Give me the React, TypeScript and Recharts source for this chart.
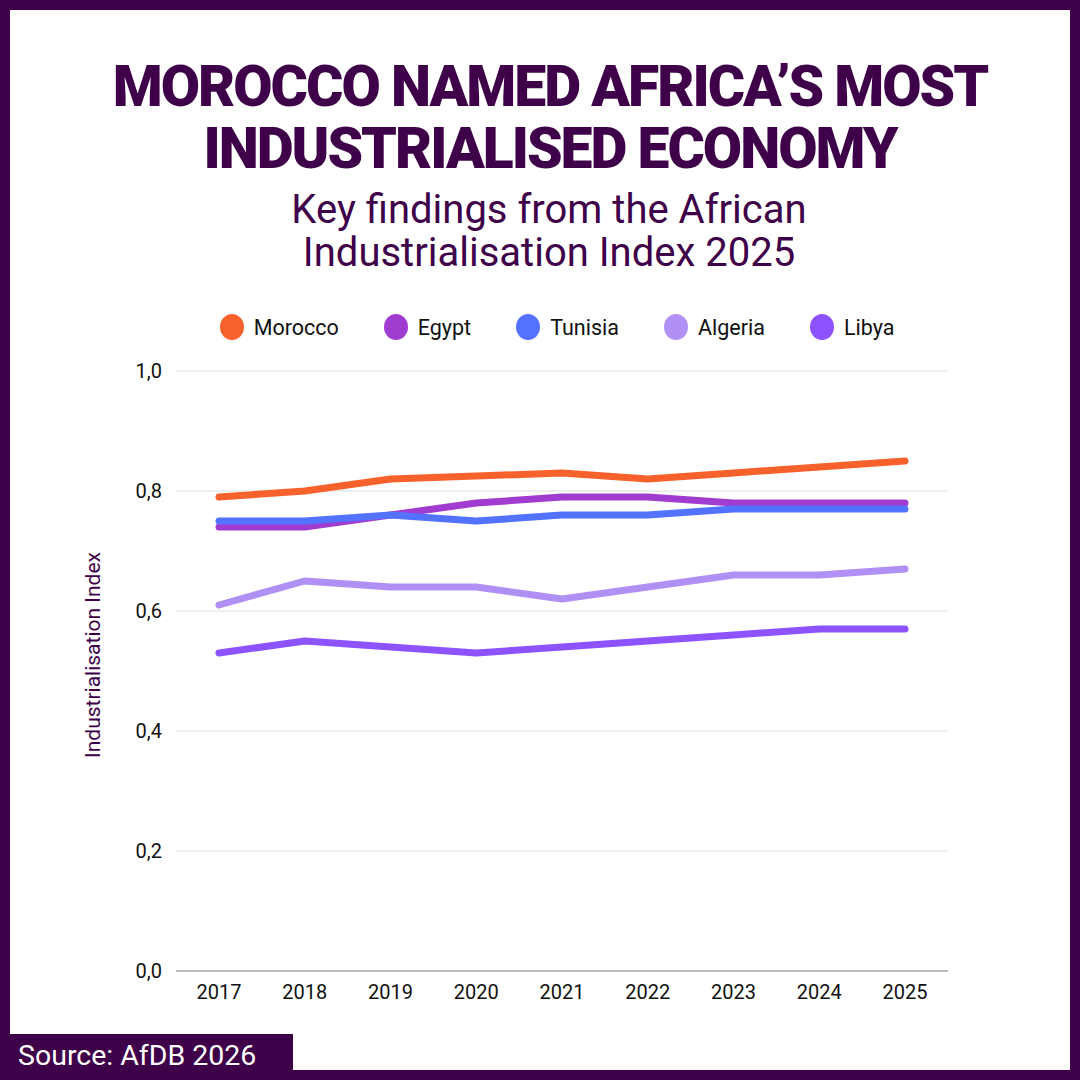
import React from "react";
import { LineChart, Line, XAxis, YAxis, CartesianGrid } from "recharts";

const years = ["2017", "2018", "2019", "2020", "2021", "2022", "2023", "2024", "2025"];
const morocco = [0.79, 0.8, 0.82, 0.825, 0.83, 0.82, 0.83, 0.84, 0.85];
const egypt = [0.74, 0.74, 0.76, 0.78, 0.79, 0.79, 0.78, 0.78, 0.78];
const tunisia = [0.75, 0.75, 0.76, 0.75, 0.76, 0.76, 0.77, 0.77, 0.77];
const algeria = [0.61, 0.65, 0.64, 0.64, 0.62, 0.64, 0.66, 0.66, 0.67];
const libya = [0.53, 0.55, 0.54, 0.53, 0.54, 0.55, 0.56, 0.57, 0.57];
const yTicks = [0, 0.2, 0.4, 0.6, 0.8, 1.0];

const series = [
  { key: "Morocco", values: morocco, color: "#F7612B" },
  { key: "Egypt", values: egypt, color: "#A13CD1" },
  { key: "Tunisia", values: tunisia, color: "#5272FF" },
  { key: "Algeria", values: algeria, color: "#B190F5" },
  { key: "Libya", values: libya, color: "#8D53FF" },
];

const data = years.map((year, i) => {
  const row: Record<string, string | number> = { year };
  series.forEach((s) => {
    row[s.key] = s.values[i];
  });
  return row;
});

const purple = "#3F004A";
const font = "Roboto, 'Noto Sans', sans-serif";

// rotated axis title, sits a bit above the plot's middle like the original
const AxisTitle = ({ viewBox }: any) => {
  const x = viewBox.x - 23;
  const y = viewBox.y + viewBox.height / 2 - 16;
  return (
    <text x={x} y={y} transform={`rotate(-90, ${x}, ${y})`} textAnchor="middle" dominantBaseline="central" fill={purple} fontSize={21} fontFamily={font}>
      Industrialisation Index
    </text>
  );
};

export default function App() {
  return (
    <div style={{ position: "absolute", left: 0, top: 0, width: 1080, height: 1080, background: "#fff", fontFamily: font, overflow: "hidden" }}>
      <style>{`body{margin:0}`}</style>
      {/* frame */}
      <div style={{ position: "absolute", inset: 0, border: `10px solid ${purple}`, boxSizing: "border-box" }} />

      <div style={{ position: "absolute", top: 56, left: 10, width: 1080, textAlign: "center", color: purple, fontWeight: 900, fontSize: 57, lineHeight: "62px", letterSpacing: -2 }}>
        MOROCCO NAMED AFRICA’S MOST
        <br />
        INDUSTRIALISED ECONOMY
      </div>
      <div style={{ position: "absolute", top: 188, left: 9, width: 1080, textAlign: "center", color: purple, fontSize: 40, lineHeight: "43px" }}>
        Key findings from the African
        <br />
        Industrialisation Index 2025
      </div>

      {/* legend */}
      <div style={{ position: "absolute", top: 314, left: 0, width: 1080, display: "flex", justifyContent: "center", gap: 45, marginLeft: 17 }}>
        {series.map((s) => (
          <div key={s.key} style={{ display: "flex", alignItems: "center", gap: 10 }}>
            <div style={{ width: 24, height: 26, borderRadius: "50%", background: s.color }} />
            <span style={{ fontSize: 21.5, color: "#111" }}>{s.key}</span>
          </div>
        ))}
      </div>

      <div style={{ position: "absolute", left: 0, top: 0 }}>
        <LineChart width={1080} height={1080} data={data} margin={{ top: 371, right: 132, bottom: 79, left: 116 }}>
          <CartesianGrid vertical={false} stroke="#DDDDDD" />
          <XAxis
            dataKey="year"
            padding={{ left: 43, right: 43 }}
            axisLine={{ stroke: "#AAAAAA", strokeWidth: 1.5 }}
            tickLine={false}
            tickMargin={8}
            tick={{ fill: "#111", fontSize: 20, fontFamily: font }}
          />
          <YAxis
            width={60}
            domain={[0, 1]}
            ticks={yTicks}
            axisLine={false}
            tickLine={false}
            tickMargin={8}
            tickFormatter={(v: number) => v.toFixed(1).replace(".", ",")}
            tick={{ fill: "#111", fontSize: 20, fontFamily: font }}
            label={<AxisTitle />}
          />
          {series.map((s) => (
            <Line
              key={s.key}
              type="linear"
              dataKey={s.key}
              stroke={s.color}
              strokeWidth={7}
              strokeLinecap="round"
              strokeLinejoin="round"
              dot={false}
              activeDot={false}
              isAnimationActive={false}
            />
          ))}
        </LineChart>
      </div>

      {/* source */}
      <div style={{ position: "absolute", left: 0, top: 1034, width: 293, height: 46, background: purple, color: "#fff", fontSize: 28.5, lineHeight: "44px", paddingLeft: 18, boxSizing: "border-box" }}>
        Source: AfDB 2026
      </div>
    </div>
  );
}
